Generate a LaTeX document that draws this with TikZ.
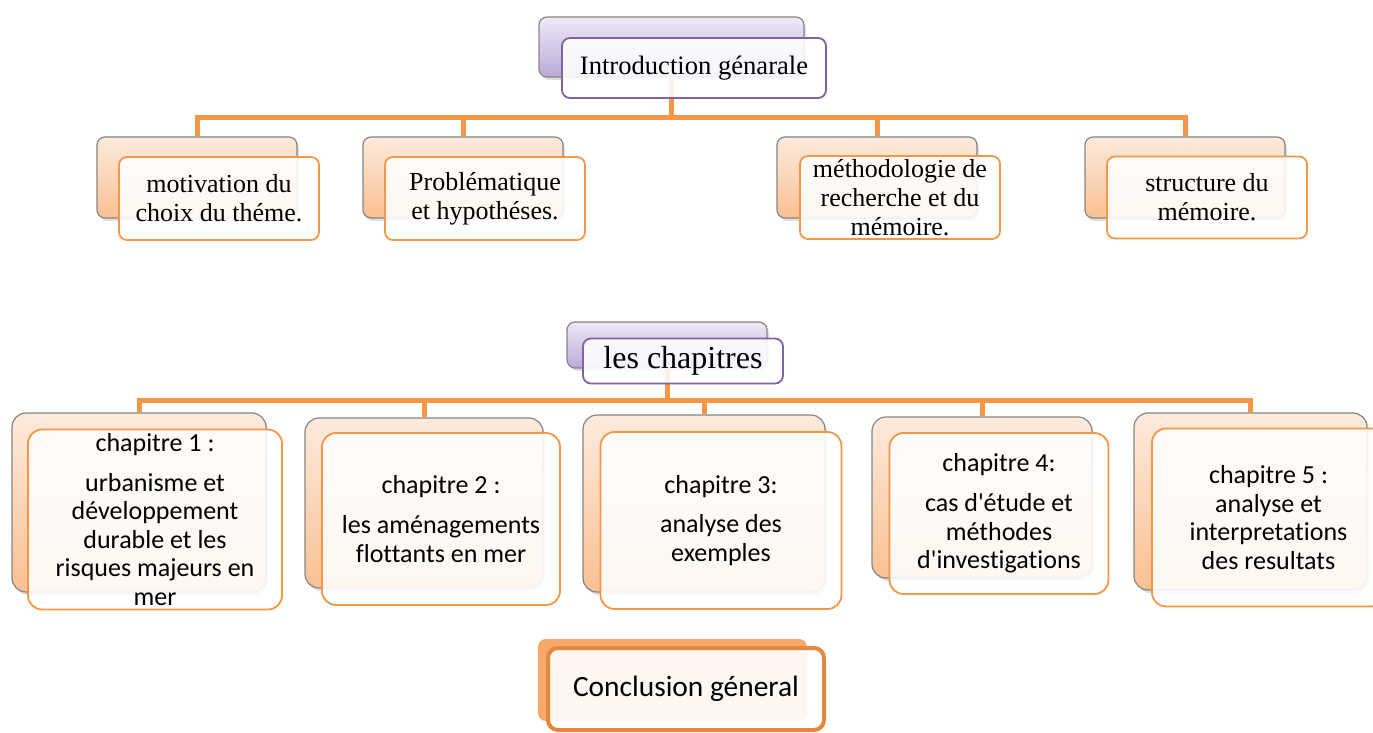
\documentclass[tikz,border=0pt]{standalone}
\usepackage{fontspec}
\setmainfont{Liberation Serif}
\newfontfamily\calibri[Ligatures=NoCommon]{Carlito}
\usetikzlibrary{shadows,backgrounds}
\definecolor{linkorange}{HTML}{F79646}
\definecolor{boxgray}{HTML}{858585}
\definecolor{peachtop}{HTML}{FDEBDD}
\definecolor{peachbot}{HTML}{FAC092}
\definecolor{lilactop}{HTML}{EEE9F6}
\definecolor{lilacbot}{HTML}{BBA9D8}
\definecolor{lilacline}{HTML}{8064A2}
\definecolor{conclfill}{HTML}{F6A96B}
\definecolor{conclline}{HTML}{E3883C}
\tikzset{
  backbox/.style={draw=boxgray,line width=0.6pt,rounded corners=4pt,top color=peachtop,bottom color=peachbot,inner sep=0pt,drop shadow={opacity=0.25,shadow xshift=1pt,shadow yshift=-1.5pt}},
  frontbox/.style={draw=linkorange,line width=0.9pt,rounded corners=4pt,fill=white,fill opacity=0.88,text opacity=1,align=center,inner sep=0pt,font=\fontsize{13}{14.5}\selectfont},
  lilacback/.style={backbox,top color=lilactop,bottom color=lilacbot},
  lilacfront/.style={frontbox,draw=lilacline},
  chapback/.style={backbox,rounded corners=7pt},
  chapfront/.style={frontbox,rounded corners=7pt,font=\calibri\fontsize{13}{14.3}\selectfont},
  conclback/.style={rounded corners=4pt,fill=conclfill,inner sep=0pt},
  conclfront/.style={draw=conclline,line width=2pt,rounded corners=5pt,fill=white,fill opacity=0.9,text opacity=1,inner sep=0pt,font=\calibri\fontsize{14.7}{16}\selectfont},
  link/.style={draw=linkorange,line width=2.5pt}
}
\begin{document}
\begin{tikzpicture}[x=0.5pt,y=-0.5pt]
  \useasboundingbox (0,0) rectangle (1373,733);

  % introduction
  \node (introback) [lilacback,minimum width=132.5pt,minimum height=30pt] at (671.5,47) {};
  \node (intro) [lilacfront,minimum width=132pt,minimum height=30pt,xshift=11.25pt,yshift=-10.5pt,font=\fontsize{13.3}{15}\selectfont] at (introback) {Introduction génarale};

  \node (motback) [backbox,minimum width=100pt,minimum height=40.5pt] at (197,177.5) {};
  \node (mot) [frontbox,minimum width=100pt,minimum height=41.5pt,xshift=11pt,yshift=-10.5pt] at (motback) {motivation du\\choix du théme.};
  \node (probback) [backbox,minimum width=100pt,minimum height=40.5pt] at (463,177.5) {};
  \node (prob) [frontbox,minimum width=100pt,minimum height=41.5pt,xshift=11pt,yshift=-10.5pt] at (probback) {Problématique\\et hypothéses.};
  \node (methback) [backbox,minimum width=100pt,minimum height=40.5pt] at (877,177.5) {};
  \node (meth) [frontbox,minimum width=100pt,minimum height=41.5pt,xshift=11.5pt,yshift=-10pt] at (methback) {méthodologie de\\recherche et du\\mémoire.};
  \node (structback) [backbox,minimum width=100pt,minimum height=40.5pt] at (1185,177.5) {};
  \node (struct) [frontbox,minimum width=100pt,minimum height=41pt,xshift=11pt,yshift=-10pt] at (structback) {structure du\\mémoire.};

  % chapitres
  \node (chapsback) [lilacback,minimum width=100pt,minimum height=23pt] at (667,345) {};
  \node (chaps) [lilacfront,minimum width=100pt,minimum height=22.5pt,xshift=8pt,yshift=-8pt,font=\fontsize{16}{18}\selectfont] at (chapsback) {les chapitres};

  \node (ch1back) [chapback,minimum width=127pt,minimum height=89.5pt] at (139,502.5) {};
  \node (ch1) [chapfront,minimum width=127pt,minimum height=90pt,xshift=8pt,yshift=-8.5pt] at (ch1back) {chapitre 1 :\\[5.5pt]urbanisme et\\développement\\durable et les\\risques majeurs en\\mer};
  \node (ch2back) [chapback,minimum width=119pt,minimum height=85pt] at (424,503) {};
  \node (ch2) [chapfront,minimum width=119pt,minimum height=86pt,xshift=8.5pt,yshift=-8pt] at (ch2back) {chapitre 2 :\\[5.5pt]les aménagements\\flottants en mer};
  \node (ch3back) [chapback,minimum width=121pt,minimum height=88.5pt] at (704,503.5) {};
  \node (ch3) [chapfront,minimum width=120.5pt,minimum height=88.5pt,xshift=8.5pt,yshift=-8.5pt] at (ch3back) {chapitre 3:\\[5.5pt]analyse des\\exemples};
  \node (ch4back) [chapback,minimum width=110pt,minimum height=80.5pt] at (982,497.5) {};
  \node (ch4) [chapfront,minimum width=109.5pt,minimum height=80.5pt,xshift=8.5pt,yshift=-8pt] at (ch4back) {chapitre 4:\\[5.5pt]cas d'étude et\\méthodes\\d'investigations};
  \node (ch5back) [chapback,minimum width=116.5pt,minimum height=88.5pt] at (1250.5,501.5) {};
  \node (ch5) [chapfront,minimum width=116.5pt,minimum height=89pt,xshift=9pt,yshift=-8pt] at (ch5back) {chapitre 5 :\\analyse et\\interpretations\\des resultats};

  % conclusion
  \node (conclback) [conclback,minimum width=134.5pt,minimum height=41pt] at (672.5,680) {};
  \node (concl) [conclfront,minimum width=138pt,minimum height=41pt,xshift=6.75pt,yshift=-4.5pt] at (conclback) {Conclusion géneral};

  \begin{scope}[on background layer]
    \coordinate (bar1) at (0,118);
    \coordinate (bar2) at (0,400);
    \foreach \n in {motback,probback,methback,structback}
      \draw[link] (introback.south) |- (\n.north |- bar1) -- (\n.north);
    \foreach \n in {ch1back,ch2back,ch3back,ch4back,ch5back}
      \draw[link] (chapsback.south) |- (\n.north |- bar2) -- (\n.north);
  \end{scope}
\end{tikzpicture}
\end{document}
